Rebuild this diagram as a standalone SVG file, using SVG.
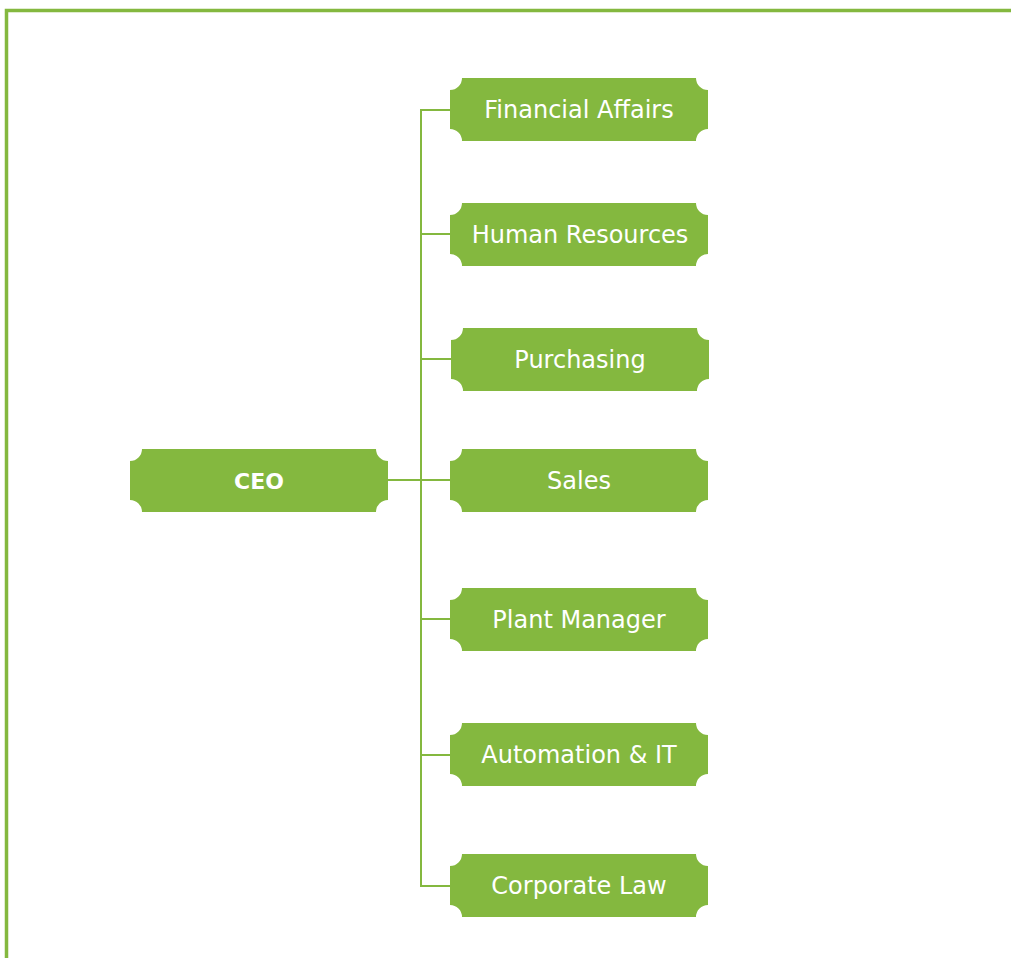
<svg xmlns="http://www.w3.org/2000/svg" xmlns:xlink="http://www.w3.org/1999/xlink" width="1011" height="958" viewBox="0 0 1011 958">
  <style>
    .plaque { fill: #84B83F; }
    .label { fill: #ffffff; font-family: "DejaVu Sans", "Liberation Sans", sans-serif; font-size: 24px; text-anchor: middle; dominant-baseline: central; }
    .bold { font-weight: 700; font-size: 22px; }
    .conn { fill: none; stroke: #84B83F; stroke-width: 2; }
    .frame { fill: none; stroke: #84B83F; stroke-width: 3.5; }
  </style>
  <defs>
    <path id="plaque" d="M12,0 H246 A12,12 0 0 0 258,12 V51 A12,12 0 0 0 246,63 H12 A12,12 0 0 0 0,51 V12 A12,12 0 0 0 12,0 Z"/>
  </defs>
  <rect width="1011" height="958" fill="#ffffff"/>
  <path class="frame" d="M6.5,958 V10.5 H1011"/>

  <g id="connectors">
    <path class="conn" d="M450,110 H421 V886 H450"/>
    <path class="conn" d="M421,234 H450"/>
    <path class="conn" d="M421,359 H451"/>
    <path class="conn" d="M388,480 H450"/>
    <path class="conn" d="M421,619 H450"/>
    <path class="conn" d="M421,755 H450"/>
  </g>

  <g id="ceo">
    <use xlink:href="#plaque" class="plaque" x="130" y="449"/>
    <text class="label bold" x="259" y="481">CEO</text>
  </g>
  <g id="financial-affairs">
    <use xlink:href="#plaque" class="plaque" x="450" y="78"/>
    <text class="label" x="579" y="110">Financial Affairs</text>
  </g>
  <g id="human-resources">
    <use xlink:href="#plaque" class="plaque" x="450" y="203"/>
    <text class="label" x="580" y="235">Human Resources</text>
  </g>
  <g id="purchasing">
    <use xlink:href="#plaque" class="plaque" x="451" y="328"/>
    <text class="label" x="580" y="360">Purchasing</text>
  </g>
  <g id="sales">
    <use xlink:href="#plaque" class="plaque" x="450" y="449"/>
    <text class="label" x="579" y="481">Sales</text>
  </g>
  <g id="plant-manager">
    <use xlink:href="#plaque" class="plaque" x="450" y="588"/>
    <text class="label" x="579" y="620">Plant Manager</text>
  </g>
  <g id="automation-it">
    <use xlink:href="#plaque" class="plaque" x="450" y="723"/>
    <text class="label" x="579" y="755">Automation &amp; IT</text>
  </g>
  <g id="corporate-law">
    <use xlink:href="#plaque" class="plaque" x="450" y="854"/>
    <text class="label" x="579" y="886">Corporate Law</text>
  </g>
</svg>
